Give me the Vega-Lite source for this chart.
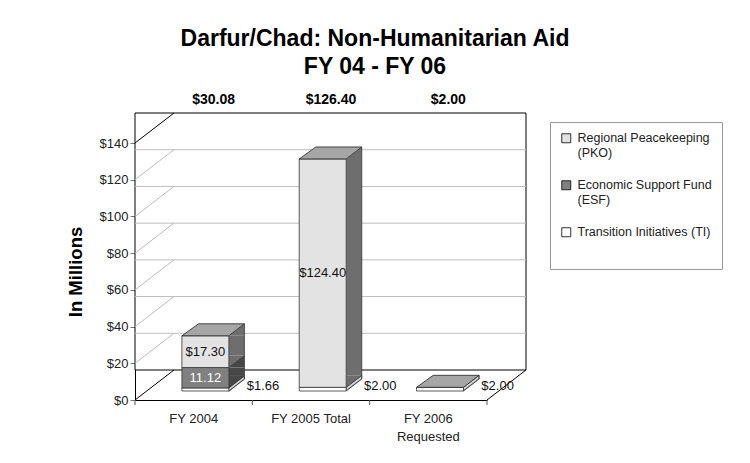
{
  "$schema": "https://vega.github.io/schema/vega-lite/v6.json",
  "width": 352,
  "height": 257,
  "autosize": {"type": "none"},
  "padding": {"left": 135, "top": 143, "right": 263, "bottom": 63},
  "background": "white",
  "title": {
    "text": ["Darfur/Chad: Non-Humanitarian Aid", "FY 04 - FY 06"],
    "font": "Liberation Sans",
    "fontSize": 23,
    "fontWeight": "bold",
    "color": "#000000",
    "lineHeight": 28,
    "anchor": "middle",
    "dx": 64,
    "offset": 14
  },
  "config": {
    "view": {"stroke": null},
    "font": "Liberation Sans",
    "axis": {"labelOverlap": false, "labelFlush": false},
    "axisY": {"labelOverlap": false, "labelAngle": 0, "labelAlign": "right", "labelBaseline": "middle", "labelFlush": false, "tickCount": 10},
    "axisX": {"labelOverlap": false, "labelAngle": 0, "labelAlign": "center", "labelBaseline": "top", "labelFlush": false}
  },
  "datasets": {
    "segments": [
      {"year": "FY 2004", "series": "Transition Initiatives (TI)", "amount": 1.66, "rank": 1},
      {"year": "FY 2004", "series": "Economic Support Fund (ESF)", "amount": 11.12, "rank": 2},
      {"year": "FY 2004", "series": "Regional Peacekeeping (PKO)", "amount": 17.30, "rank": 3},
      {"year": "FY 2005 Total", "series": "Transition Initiatives (TI)", "amount": 2.00, "rank": 1},
      {"year": "FY 2005 Total", "series": "Regional Peacekeeping (PKO)", "amount": 124.40, "rank": 3},
      {"year": "FY 2006 Requested", "series": "Transition Initiatives (TI)", "amount": 2.00, "rank": 1}
    ],
    "grid": [{"v": 20}, {"v": 40}, {"v": 60}, {"v": 80}, {"v": 100}, {"v": 120}],
    "frame": [{"lo": 0, "hi": 140}],
    "leftEdges": [{"v": 0}, {"v": 140}],
    "rightEdges": [{"v": 0}],
    "years": [{"year": "FY 2004", "v": 0}, {"year": "FY 2005 Total", "v": 0}, {"year": "FY 2006 Requested", "v": 0}]
  },
  "layer": [
    {
      "data": {"name": "frame"},
      "mark": {"type": "rect", "fill": "white", "stroke": "#000000", "strokeWidth": 1, "xOffset": 39, "x2Offset": 39, "yOffset": -30, "y2Offset": -30},
      "encoding": {
        "y": {
          "field": "hi", "type": "quantitative", "title": "In Millions",
          "scale": {"domain": [0, 140], "nice": false, "zero": true},
          "axis": {
            "values": [0, 20, 40, 60, 80, 100, 120, 140],
            "tickCount": 10,
            "format": "$d",
            "labelOverlap": false,
            "labelAngle": 0,
            "labelAlign": "right",
            "labelBaseline": "middle",
            "labelFont": "Liberation Sans",
            "labelFontSize": 13,
            "labelColor": "#222222",
            "tickSize": 5,
            "tickColor": "#777777",
            "domainColor": "#000000",
            "labelPadding": 2,
            "grid": false,
            "titleFont": "Liberation Sans",
            "titleFontSize": 18.5,
            "titleFontWeight": "bold",
            "titleColor": "#000000",
            "titlePadding": 14
          }
        },
        "y2": {"field": "lo"}
      }
    },
    {
      "data": {"name": "grid"},
      "mark": {"type": "rule", "color": "#BDBDBD", "strokeWidth": 1, "xOffset": 39, "x2Offset": 39, "yOffset": -30},
      "encoding": {
        "y": {"field": "v", "type": "quantitative", "title": "In Millions"}
      }
    },
    {
      "data": {"name": "grid"},
      "mark": {"type": "point", "shape": "M-58.67,0L-19.67,-30", "size": 4, "filled": false, "stroke": "#BDBDBD", "strokeWidth": 1, "opacity": 1},
      "encoding": {
        "x": {"datum": "FY 2004", "type": "nominal", "title": null, "scale": {"type": "band", "domain": ["FY 2004", "FY 2005 Total", "FY 2006 Requested"], "paddingInner": 0.6, "paddingOuter": 0.3}},
        "y": {"field": "v", "type": "quantitative", "title": "In Millions"}
      }
    },
    {
      "data": {"name": "leftEdges"},
      "mark": {"type": "point", "shape": "M-58.67,0L-19.67,-30", "size": 4, "filled": false, "stroke": "#000000", "strokeWidth": 1, "opacity": 1},
      "encoding": {
        "x": {"datum": "FY 2004", "type": "nominal", "title": null},
        "y": {"field": "v", "type": "quantitative", "title": "In Millions"}
      }
    },
    {
      "data": {"name": "rightEdges"},
      "mark": {"type": "point", "shape": "M58.67,0L97.67,-30", "size": 4, "filled": false, "stroke": "#000000", "strokeWidth": 1, "opacity": 1},
      "encoding": {
        "x": {"datum": "FY 2006 Requested", "type": "nominal", "title": null},
        "y": {"field": "v", "type": "quantitative", "title": "In Millions"}
      }
    },
    {
      "data": {"name": "years"},
      "mark": {"type": "point", "shape": "M-58.67,0L-58.67,5", "size": 4, "filled": false, "stroke": "#555555", "strokeWidth": 1, "opacity": 1},
      "encoding": {
        "x": {"field": "year", "type": "nominal", "title": null},
        "y": {"field": "v", "type": "quantitative", "title": "In Millions"}
      }
    },
    {
      "data": {"name": "rightEdges"},
      "mark": {"type": "point", "shape": "M58.67,0L58.67,5", "size": 4, "filled": false, "stroke": "#555555", "strokeWidth": 1, "opacity": 1},
      "encoding": {
        "x": {"datum": "FY 2006 Requested", "type": "nominal", "title": null},
        "y": {"field": "v", "type": "quantitative", "title": "In Millions"}
      }
    },
    {
      "data": {"name": "segments"},
      "transform": [
        {"stack": "amount", "groupby": ["year"], "sort": [{"field": "rank", "order": "ascending"}], "as": ["lo", "hi"]}
      ],
      "layer": [
        {
          "transform": [{"filter": "datum.series != 'Transition Initiatives (TI)'"}],
          "mark": {"type": "bar", "width": 15.6, "xOffset": 42.95, "yOffset": -9, "y2Offset": -21},
          "encoding": {
            "x": {
              "field": "year", "type": "nominal", "title": null,
              "axis": {
                "labelAngle": 0,
                "labelAlign": "center",
                "labelBaseline": "top",
                "labelOverlap": false,
                "labelFont": "Liberation Sans",
                "labelFontSize": 13,
                "labelColor": "#222222",
                "labelLineHeight": 18,
                "labelPadding": 7,
                "labelExpr": "datum.label == 'FY 2006 Requested' ? ['FY 2006', 'Requested'] : datum.label",
                "tickSize": 5,
                "tickOpacity": 0,
                "domainColor": "#000000"
              }
            },
            "y": {"field": "hi", "type": "quantitative", "title": "In Millions"},
            "y2": {"field": "lo"},
            "color": {
              "field": "series", "type": "nominal",
              "scale": {"domain": ["Transition Initiatives (TI)", "Economic Support Fund (ESF)", "Regional Peacekeeping (PKO)"], "range": ["#C8C8C8", "#474747", "#6E6E6E"]},
              "legend": null
            }
          }
        },
        {
          "transform": [{"filter": "datum.series != 'Transition Initiatives (TI)'"}],
          "mark": {"type": "point", "shape": "M35.15,-9L50.75,-21L50.75,-9Z", "size": 4, "filled": true, "strokeWidth": 0, "opacity": 1},
          "encoding": {
            "x": {"field": "year", "type": "nominal", "title": null},
            "y": {"field": "hi", "type": "quantitative", "title": "In Millions"},
            "color": {"field": "series", "type": "nominal", "legend": null}
          }
        },
        {
          "transform": [{"filter": "datum.series != 'Transition Initiatives (TI)'"}],
          "mark": {"type": "point", "shape": "M35.15,-21L35.15,-9L50.75,-21Z", "size": 4, "filled": true, "strokeWidth": 0, "opacity": 1},
          "encoding": {
            "x": {"field": "year", "type": "nominal", "title": null},
            "y": {"field": "lo", "type": "quantitative", "title": "In Millions"},
            "color": {"field": "series", "type": "nominal", "legend": null}
          }
        },
        {
          "transform": [{"filter": "datum.series == 'Transition Initiatives (TI)'"}],
          "mark": {"type": "point", "shape": "M35.15,-9L50.75,-21L50.75,-17.6L35.15,-5.6Z", "size": 4, "filled": true, "fill": "#D2D2D2", "stroke": "#333333", "strokeWidth": 0.6, "opacity": 1},
          "encoding": {
            "x": {"field": "year", "type": "nominal", "title": null},
            "y": {"field": "hi", "type": "quantitative", "title": "In Millions"}
          }
        },
        {
          "mark": {"type": "point", "shape": "M35.15,-9L50.75,-21", "size": 4, "filled": false, "stroke": "#333333", "strokeWidth": 0.8, "opacity": 1},
          "encoding": {
            "x": {"field": "year", "type": "nominal", "title": null},
            "y": {"field": "lo", "type": "quantitative", "title": "In Millions"}
          }
        },
        {
          "transform": [{"aggregate": [{"op": "sum", "field": "amount", "as": "total"}], "groupby": ["year"]}],
          "mark": {"type": "rule", "xOffset": 50.75, "yOffset": -21, "y2Offset": -21, "color": "#333333", "strokeWidth": 0.8},
          "encoding": {
            "x": {"field": "year", "type": "nominal", "title": null},
            "y": {"field": "total", "type": "quantitative", "title": "In Millions"},
            "y2": {"datum": 0}
          }
        },
        {
          "mark": {"type": "bar", "xOffset": 11.7, "yOffset": -9, "y2Offset": -9, "stroke": "#333333", "strokeWidth": 0.8},
          "encoding": {
            "x": {"field": "year", "type": "nominal", "title": null},
            "y": {"field": "hi", "type": "quantitative", "title": "In Millions"},
            "y2": {"field": "lo"},
            "fill": {
              "field": "series", "type": "nominal",
              "scale": {"domain": ["Regional Peacekeeping (PKO)", "Economic Support Fund (ESF)", "Transition Initiatives (TI)"], "range": ["#E3E3E3", "#808080", "#FFFFFF"]},
              "legend": {
                "orient": "none",
                "legendX": 415,
                "legendY": -21,
                "title": "\u00a0",
                "titleOrient": "bottom",
                "titleFontSize": 12,
                "titlePadding": 9,
                "symbolType": "square",
                "symbolSize": 81,
                "symbolStrokeColor": "#000000",
                "symbolStrokeWidth": 0.8,
                "labelFont": "Liberation Sans",
                "labelFontSize": 12.5,
                "labelColor": "#222222",
                "labelLineHeight": 17,
                "labelOffset": 5,
                "labelExpr": "datum.label == 'Regional Peacekeeping (PKO)' ? ['Regional Peacekeeping', '(PKO)'] : datum.label == 'Economic Support Fund (ESF)' ? ['Economic Support Fund', '(ESF)'] : datum.label",
                "padding": 10,
                "rowPadding": 19,
                "strokeColor": "#999999",
                "fillColor": "#FFFFFF"
              }
            }
          }
        },
        {
          "transform": [{"aggregate": [{"op": "sum", "field": "amount", "as": "total"}], "groupby": ["year"]}],
          "mark": {"type": "point", "shape": "M-11.75,-9L35.15,-9L50.75,-21L4.85,-21Z", "size": 4, "filled": true, "fill": "#A6A6A6", "stroke": "#222222", "strokeWidth": 0.8, "opacity": 1},
          "encoding": {
            "x": {"field": "year", "type": "nominal", "title": null},
            "y": {"field": "total", "type": "quantitative", "title": "In Millions"}
          }
        },
        {
          "transform": [
            {"filter": "datum.series == 'Regional Peacekeeping (PKO)'"},
            {"fold": ["lo", "hi"], "as": ["edge", "yv"]}
          ],
          "mark": {"type": "text", "xOffset": 11.7, "yOffset": -9, "fontSize": 13, "color": "#111111", "font": "Liberation Sans"},
          "encoding": {
            "x": {"field": "year", "type": "nominal", "title": null},
            "y": {"aggregate": "mean", "field": "yv", "type": "quantitative", "title": "In Millions"},
            "text": {"aggregate": "max", "field": "amount", "type": "quantitative", "format": "$.2f"}
          }
        },
        {
          "transform": [
            {"filter": "datum.series == 'Economic Support Fund (ESF)'"},
            {"fold": ["lo", "hi"], "as": ["edge", "yv"]}
          ],
          "mark": {"type": "text", "xOffset": 11.7, "yOffset": -9, "fontSize": 13, "color": "#FFFFFF", "font": "Liberation Sans"},
          "encoding": {
            "x": {"field": "year", "type": "nominal", "title": null},
            "y": {"aggregate": "mean", "field": "yv", "type": "quantitative", "title": "In Millions"},
            "text": {"aggregate": "max", "field": "amount", "type": "quantitative", "format": ".2f"}
          }
        },
        {
          "transform": [
            {"filter": "datum.series == 'Transition Initiatives (TI)'"},
            {"fold": ["lo", "hi"], "as": ["edge", "yv"]}
          ],
          "mark": {"type": "text", "align": "left", "xOffset": 53, "yOffset": -12, "fontSize": 13, "color": "#111111", "font": "Liberation Sans"},
          "encoding": {
            "x": {"field": "year", "type": "nominal", "title": null},
            "y": {"aggregate": "mean", "field": "yv", "type": "quantitative", "title": "In Millions"},
            "text": {"aggregate": "max", "field": "amount", "type": "quantitative", "format": "$.2f"}
          }
        },
        {
          "transform": [{"aggregate": [{"op": "sum", "field": "amount", "as": "total"}], "groupby": ["year"]}],
          "mark": {"type": "text", "xOffset": 20, "yOffset": -43, "fontSize": 14, "fontWeight": "bold", "color": "#000000", "font": "Liberation Sans"},
          "encoding": {
            "x": {"field": "year", "type": "nominal", "title": null},
            "y": {"datum": 140, "type": "quantitative", "title": "In Millions"},
            "text": {"field": "total", "type": "quantitative", "format": "$.2f"}
          }
        }
      ]
    }
  ]
}
